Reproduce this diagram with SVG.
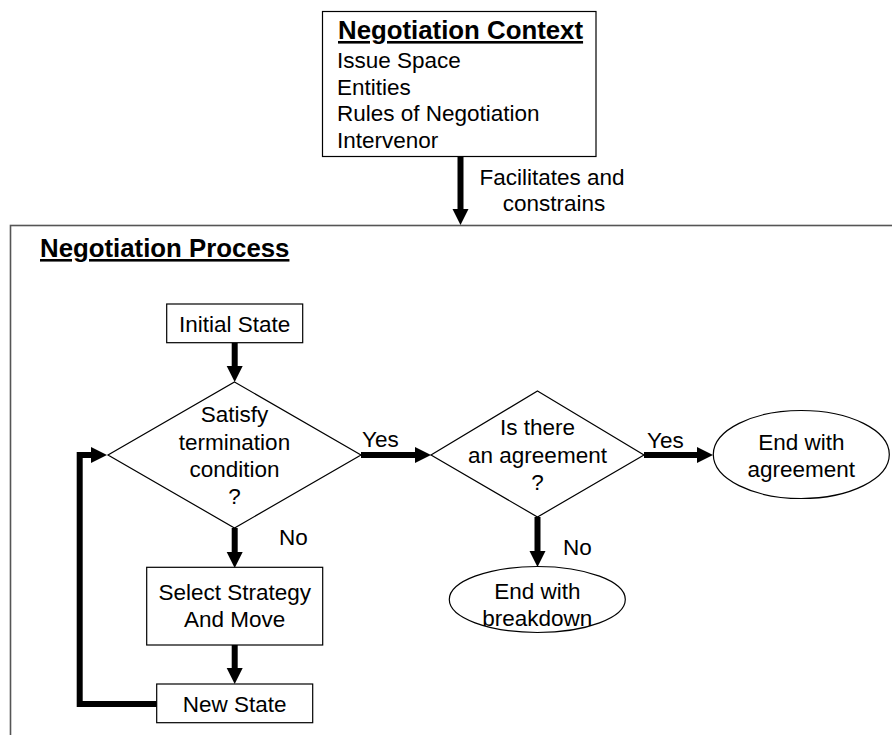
<svg xmlns="http://www.w3.org/2000/svg" width="892" height="735" viewBox="0 0 892 735">
<style>
  text { font-family: "Liberation Sans", Arial, sans-serif; font-size: 22.5px; fill: #000; }
  .h { font-weight: bold; font-size: 25.8px; text-decoration: underline; }
  .c { text-anchor: middle; }
  .box { fill: #fff; stroke: #000; stroke-width: 1.2; }
  .frame { fill: none; stroke: #555; stroke-width: 1.6; }
  .conn { fill: none; stroke: #000; stroke-width: 6; marker-end: url(#ah); }
</style>
<defs>
  <marker id="ah" markerUnits="userSpaceOnUse" markerWidth="17" markerHeight="17" refX="0" refY="8" orient="auto" overflow="visible">
    <path d="M0,0 L16,8 L0,16 Z" fill="#000"/>
  </marker>
</defs>
<rect width="892" height="735" fill="#fff"/>

<g id="process-frame">
  <rect class="frame" x="10.5" y="225.5" width="900" height="600"/>
  <text class="h" x="40" y="257">Negotiation Process</text>
</g>

<g id="context">
  <rect class="box" x="322.5" y="11.5" width="273.5" height="145"/>
  <text class="h" x="338" y="39">Negotiation Context</text>
  <text x="337" y="68">Issue Space</text>
  <text x="337" y="94.5">Entities</text>
  <text x="337" y="121">Rules of Negotiation</text>
  <text x="337" y="148">Intervenor</text>
</g>

<g id="connectors">
  <path class="conn" d="M460.5,157 V209"/>
  <path class="conn" d="M234.7,343 V366"/>
  <path class="conn" d="M234.7,528 V552"/>
  <path class="conn" d="M234.7,645 V668"/>
  <path class="conn" d="M157,704 H79.7 V455 H91"/>
  <path class="conn" d="M361,455 H415"/>
  <path class="conn" d="M644,455 H697"/>
  <path class="conn" d="M537.5,517 V551"/>
  <text class="c" x="552" y="185">Facilitates and</text>
  <text class="c" x="554" y="211">constrains</text>
  <text x="362" y="446.5">Yes</text>
  <text x="647" y="448">Yes</text>
  <text x="279" y="545">No</text>
  <text x="563" y="555">No</text>
</g>

<g id="initial-state">
  <rect class="box" x="166.7" y="304" width="136" height="38.7"/>
  <text class="c" x="234.7" y="331.5">Initial State</text>
</g>

<g id="termination-check">
  <polygon class="box" points="234.5,382 361,455 234.5,528 108,455"/>
  <text class="c" x="234.5" y="421.5">Satisfy</text>
  <text class="c" x="234.5" y="450">termination</text>
  <text class="c" x="234.5" y="477">condition</text>
  <text class="c" x="234.5" y="503.5">?</text>
</g>

<g id="select-strategy">
  <rect class="box" x="146.7" y="567.3" width="176" height="77.7"/>
  <text class="c" x="234.7" y="600">Select Strategy</text>
  <text class="c" x="234.7" y="627">And Move</text>
</g>

<g id="new-state">
  <rect class="box" x="156.7" y="684" width="156" height="38.7"/>
  <text class="c" x="234.7" y="711.5">New State</text>
</g>

<g id="agreement-check">
  <polygon class="box" points="537.5,391 644,455 537.5,517 431,455"/>
  <text class="c" x="537.5" y="435">Is there</text>
  <text class="c" x="537.5" y="463">an agreement</text>
  <text class="c" x="537.5" y="490">?</text>
</g>

<g id="end-agreement">
  <ellipse class="box" cx="801.3" cy="454.5" rx="88" ry="44"/>
  <text class="c" x="801.3" y="450">End with</text>
  <text class="c" x="801.3" y="477">agreement</text>
</g>

<g id="end-breakdown">
  <ellipse class="box" cx="537.3" cy="599.5" rx="88" ry="33"/>
  <text class="c" x="537.3" y="599">End with</text>
  <text class="c" x="537.3" y="625.5">breakdown</text>
</g>
</svg>
